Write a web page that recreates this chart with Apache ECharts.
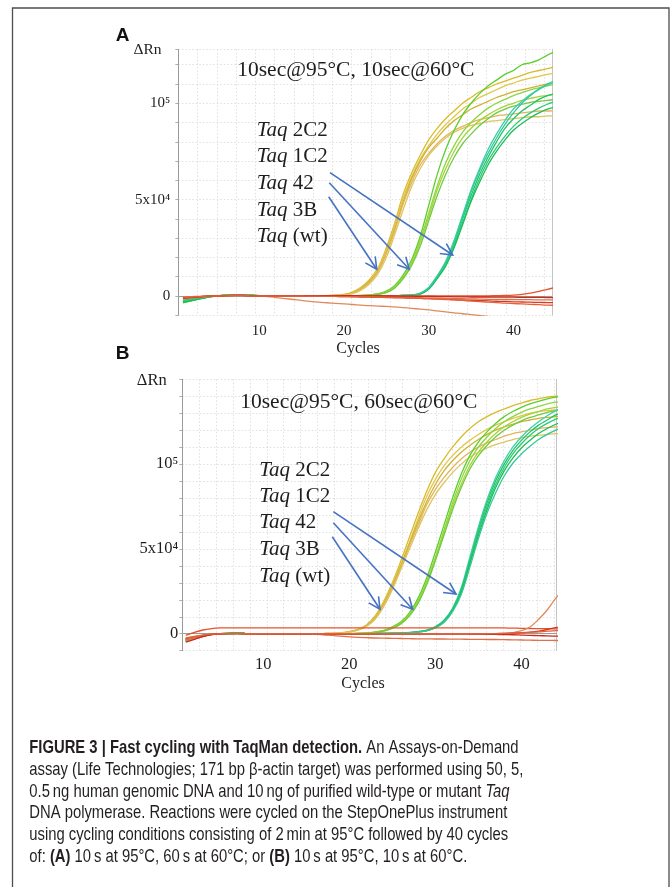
<!DOCTYPE html>
<html><head><meta charset="utf-8">
<script src="https://cdn.jsdelivr.net/npm/echarts@6/dist/echarts.min.js"></script>
<style>html,body{margin:0;padding:0;background:#fff}#c{width:671px;height:887px}</style>
</head><body><div id="c"></div>
<script>
// ---------- DATA (ΔRn in thousands, cycles 1..45) ----------
const cycles = [1,2,3,4,5,6,7,8,9,10,11,12,13,14,15,16,17,18,19,20,21,22,23,24,25,26,27,28,29,30,31,32,33,34,35,36,37,38,39,40,41,42,43,44,45];
const yTickLabels = {0:'0', 50:'5x10\u2074', 100:'10\u2075'};
const xTickLabels = [10,20,30,40];

// Panel A: 10sec@95°C, 10sec@60°C
const aY1 = [-2,-1.5,-1,-0.4,0, 0.3,0.5,0.5,0.3,0.1, 0,0,0,0,0, 0,0.1,0.2,0.4,0.8, 2,4.5,8.5,14.5,25, 38,53,64,73,81, 87,92,96,100,103, 106,108,110,111.5,113, 114.5,116,117,118,119];
const aY2 = [-1.5,-1.2,-0.8,-0.3,0, 0.3,0.5,0.5,0.3,0.1, 0,0,0,0,0, 0,0.1,0.2,0.4,0.7, 1.8,4.2,8,14,24, 37,51,62,71,78, 84,89,93,97,100, 103,105,107,109,110.5, 112,113,114,115,115.5];
const aY3 = [-1,-0.8,-0.5,-0.2,0, 0.2,0.4,0.4,0.3,0.1, 0,0,0,0,0, 0,0.1,0.2,0.3,0.6, 1.6,3.8,7.5,13,22.5, 35,49,61,70,77, 82,87,91,94,97, 99,101,103,104.5,106, 107,108,109,110,110.5];
const aY4 = [-1.8,-1.4,-0.9,-0.3,0, 0.3,0.5,0.5,0.3,0.1, 0,0,0,0,0, 0,0,0.1,0.3,0.5, 1.5,3.5,7,12.5,22, 34,48,59,68,74, 79,83,86,88,90, 91.5,92.5,93.5,94,94.5, 95,95.5,96,96,96.5];
const aY5 = [-1.2,-1,-0.6,-0.2,0, 0.2,0.4,0.4,0.3,0.1, 0,0,0,0,0, 0,0,0.1,0.2,0.4, 1.2,3,6.2,11.5,20, 32,45,57,66,73, 78,82,85,87,88.5, 89.5,90.5,91,91.5,92, 92.5,93,93,93.5,93.5];
const aG1 = [-3.5,-2.5,-1.5,-0.5,0, 0.4,0.6,0.6,0.4,0.2, 0,0,0,0,0, 0,0,0,0,0, 0.1,0.3,0.6,1.2,2.5, 5.5,11,19,31,47, 63,76,86,94,100, 105,109,112,115,117, 120,121,122.5,125,127];
const aG2 = [-3,-2.2,-1.3,-0.4,0, 0.4,0.6,0.6,0.4,0.2, 0,0,0,0,0, 0,0,0,0,0, 0.1,0.3,0.5,1,2, 5,10,17.5,29,43, 57,69,78,85,90, 94,97.5,100,102,104, 105.5,107,108,109,110];
const aG3 = [-2.5,-1.8,-1,-0.3,0, 0.3,0.5,0.5,0.3,0.1, 0,0,0,0,0, 0,0,0,0,0, 0.1,0.2,0.5,1,2, 4.5,9.5,17,28,41, 55,66,75,82,87, 91,94,96.5,98.5,100, 101.5,102.5,103.5,104,104.5];
const aG4 = [-3.2,-2.4,-1.4,-0.5,0, 0.4,0.6,0.6,0.4,0.2, 0,0,0,0,0, 0,0,0,0,0, 0.1,0.2,0.4,0.9,1.8, 4.2,9,16,26,39, 52,63,72,79,84, 88.5,92,95,97,98.5, 99.5,100.5,101,101.5,102];
const aT1 = [-2.8,-2,-1.2,-0.4,0, 0.3,0.5,0.5,0.3,0.1, 0,0,0,0,0, 0,0,0,0,0, 0,0,0,0.1,0.1, 0.2,0.3,0.5,1.5,4.5, 10.5,18,29,42,55, 66,76,84,91,97, 101,104.5,107,109.5,111];
const aT2 = [-3,-2.2,-1.3,-0.4,0, 0.3,0.5,0.5,0.3,0.1, 0,0,0,0,0, 0,0,0,0,0, 0,0,0,0.1,0.1, 0.2,0.3,0.5,1.2,4, 10,17,27,40,52, 63,72,80,87,92, 96,99,102,104,105];
const aT3 = [-2.5,-1.8,-1.1,-0.3,0, 0.3,0.5,0.5,0.3,0.1, 0,0,0,0,0, 0,0,0,0,0, 0,0,0,0.1,0.1, 0.2,0.3,0.4,1,3.8, 9.5,16,26,38,50, 61,70,77,83,88, 92,95,97.5,99.5,101];
const aT4 = [-3.3,-2.4,-1.4,-0.5,0, 0.4,0.6,0.6,0.4,0.2, 0,0,0,0,0, 0,0,0,0,0, 0,0,0,0.1,0.1, 0.2,0.3,0.4,1,3.5, 9,15.5,25,37,49, 59,68,75,81,86, 89.5,92.5,95,97,98];
const aT5 = [-2.2,-1.6,-0.9,-0.3,0, 0.3,0.4,0.4,0.3,0.1, 0,0,0,0,0, 0,0,0,0,0, 0,0,0,0.1,0.1, 0.2,0.3,0.5,1.3,4.2, 10,17,28,41,54, 65,74,82,89,95, 100,104,107.5,110,112];
const aR1 = [-1,-0.7,-0.4,-0.2,0, 0.2,0.3,0.3,0.2,0.1, 0.1,0.1,0.1,0.1,0.1, 0.1,0.1,0.1,0.1,0.1, 0.1,0.1,0.1,0.1,0.1, 0.1,0.1,0.1,0.1,0.1, 0.1,0.1,0.1,0.1,0.1, 0.1,0.1,0.2,0.3,0.5, 0.9,1.5,2.4,3.5,4.5];
const aR2 = [-1.5,-1,-0.5,-0.2,0, 0.3,0.4,0.4,0.3,0.1, -0.3,-0.8,-1.3,-1.8,-2.3, -2.8,-3.2,-3.5,-3.8,-4.1, -4.4,-4.7,-5,-5.2,-5.4, -5.6,-6,-6.4,-6.8,-7.2, -7.7,-8.2,-8.7,-9.2,-9.6, -10.1,-10.6,-11,-11.5,-12, -12.5,-13,-13.5,-14,-14.5];
const aR3 = [-0.8,-0.5,-0.3,-0.1,0, 0.2,0.3,0.3,0.2,0.1, 0,0,0,0,0, 0,0,-0.1,-0.2,-0.3, -0.4,-0.5,-0.6,-0.7,-0.8, -0.9,-1,-1.1,-1.2,-1.4, -1.5,-1.7,-1.9,-2,-2.2, -2.4,-2.5,-2.7,-2.8,-3, -3.1,-3.2,-3.3,-3.4,-3.5];
const aR4 = [-0.5,-0.3,-0.2,0,0, 0.2,0.3,0.3,0.2,0.2, 0.1,0.1,0.1,0,0, 0,0,0,0,0, -0.1,-0.2,-0.3,-0.4,-0.5, -0.6,-0.7,-0.8,-0.9,-1, -1.1,-1.2,-1.3,-1.4,-1.5, -1.6,-1.7,-1.7,-1.8,-1.8, -1.9,-1.9,-2,-2,-2];
const aR5 = [-1.2,-0.8,-0.4,-0.1,0, 0.2,0.3,0.3,0.2,0.1, 0.1,0.2,0.2,0.2,0.2, 0.2,0.2,0.2,0.2,0.2, 0.2,0.1,0.1,0,0, 0,-0.1,-0.1,-0.2,-0.2, -0.3,-0.3,-0.4,-0.4,-0.5, -0.5,-0.5,-0.6,-0.6,-0.6, -0.7,-0.7,-0.7,-0.8,-0.8];
const aR6 = [-1,-0.6,-0.3,-0.1,0, 0.1,0.2,0.2,0.1,0, 0,0,0,0,0, -0.1,-0.1,-0.2,-0.2,-0.3, -0.3,-0.4,-0.4,-0.5,-0.6, -0.7,-0.8,-1,-1.2,-1.4, -1.6,-1.8,-2,-2.3,-2.6, -2.9,-3.2,-3.4,-3.7,-3.9, -4.1,-4.3,-4.5,-4.7,-4.8];

// Panel B: 10sec@95°C, 60sec@60°C
const bY1 = [-4,-2.5,-1.2,-0.4,0, 0.2,0.2,0.1,0,0, 0,0,0,0,0, 0,0.1,0.2,0.5,1.2, 2.6,5.2,10.5,19,30, 43,57,71,84,95, 103,110,116,121,125, 128,130.5,132.5,134.5,136, 137.5,138.5,139.5,140,140.5];
const bY2 = [-3,-2,-1,-0.3,0, 0.1,0.2,0.1,0,0, 0,0,0,0,0, 0,0.1,0.2,0.5,1.2, 2.5,5,10,18,29, 41,54,68,81,91, 99,105,110,114,117.5, 120.5,123,125,127,128.5, 130,131,131.5,132,132.5];
const bY3 = [-3.5,-2.2,-1.1,-0.3,0, 0.1,0.2,0.1,0,0, 0,0,0,0,0, 0,0.1,0.2,0.4,1.1, 2.4,4.8,9.5,17.5,28, 40,53,66,78,88, 96,102,107,111,114.5, 117.5,120,122,123.5,125, 126,127,127.5,128,128.5];
const bY4 = [-2.5,-1.6,-0.8,-0.2,0, 0.1,0.1,0.1,0,0, 0,0,0,0,0, 0,0.1,0.2,0.4,1, 2.3,4.6,9,17,27, 39,52,64,76,85, 92,98,103,107,110, 112.5,114.5,116.5,118,119, 120,121,121.5,122,122];
const bY5 = [-3,-1.9,-1,-0.3,0, 0.1,0.2,0.1,0,0, 0,0,0,0,0, 0,0.1,0.1,0.3,0.9, 2.1,4.3,8.5,16,26, 38,50,62,73,82, 89,95,100,104,107, 109.5,111.5,113,114.5,115.5, 116.5,117,117.5,118,118];
const bG1 = [-4.5,-3,-1.5,-0.5,0, 0.2,0.2,0.1,0,0, 0,0,0,0,0, 0,0,0,0.1,0.1, 0.2,0.5,1,2,4, 7,12.5,21,33,48, 64,80,94,105,113, 119,124,128,131,133.5, 135.5,137,138.5,139.5,140];
const bG2 = [-4,-2.7,-1.4,-0.4,0, 0.2,0.2,0.1,0,0, 0,0,0,0,0, 0,0,0,0.1,0.1, 0.2,0.5,0.9,1.8,3.6, 6.5,11.5,19.5,31,45, 61,77,91,102,110, 116,121,125,128,130.5, 132.5,134,135.5,136.5,137];
const bG3 = [-3.5,-2.3,-1.2,-0.4,0, 0.1,0.2,0.1,0,0, 0,0,0,0,0, 0,0,0,0.1,0.1, 0.2,0.4,0.8,1.7,3.4, 6,11,18.5,30,44, 59,75,88,99,107, 113,118,122,125,127.5, 129.5,131,132.5,133.5,134];
const bG4 = [-4.2,-2.8,-1.4,-0.4,0, 0.2,0.2,0.1,0,0, 0,0,0,0,0, 0,0,0,0.1,0.1, 0.2,0.4,0.8,1.6,3.2, 5.8,10.5,18,29,43, 58,73,86,97,105, 111,116,120,123,125.5, 127.5,129,130.5,131.5,132];
const bT1 = [-3.8,-2.5,-1.3,-0.4,0, 0.2,0.2,0.1,0,0, 0,0,0,0,0, 0,0,0,0,0, 0,0.1,0.1,0.2,0.3, 0.5,0.8,1.3,2.2,4.2, 8,15,27,45,63, 79,92,102,110,116, 121,125,128.5,131.5,134];
const bT2 = [-3.2,-2.1,-1.1,-0.3,0, 0.1,0.2,0.1,0,0, 0,0,0,0,0, 0,0,0,0,0, 0,0.1,0.1,0.2,0.3, 0.4,0.7,1.2,2,4, 7.5,14.5,26,43,61, 77,90,100,108,114, 119,123,126,129,131];
const bT3 = [-4,-2.6,-1.3,-0.4,0, 0.2,0.2,0.1,0,0, 0,0,0,0,0, 0,0,0,0,0, 0,0.1,0.1,0.2,0.3, 0.4,0.7,1.1,1.9,3.8, 7.2,14,25,42,60, 75,88,98,106,112, 117,121,124,126.5,128.5];
const bT4 = [-3.6,-2.4,-1.2,-0.4,0, 0.1,0.2,0.1,0,0, 0,0,0,0,0, 0,0,0,0,0, 0,0.1,0.1,0.2,0.2, 0.3,0.6,1,1.8,3.6, 7,13.5,24,41,58, 73,86,96,103.5,109.5, 114,118,121,123.5,125.5];
const bT5 = [-3,-2,-1,-0.3,0, 0.1,0.2,0.1,0,0, 0,0,0,0,0, 0,0,0,0,0, 0,0.1,0.1,0.2,0.2, 0.3,0.6,1,1.7,3.4, 6.6,13,23,39,56, 71,83,93,100.5,106, 110.5,114.5,117.5,120,122];
const bR1 = [-1,0.8,2.2,3,3.4, 3.5,3.5,3.5,3.5,3.5, 3.5,3.5,3.5,3.5,3.5, 3.5,3.5,3.5,3.5,3.5, 3.5,3.5,3.5,3.5,3.5, 3.5,3.5,3.5,3.5,3.5, 3.5,3.5,3.5,3.5,3.5, 3.5,3.5,3.4,3.3,3.2, 3.1,3,3,2.9,2.9];
const bR2 = [-4.5,-3,-1.5,-0.5,0, 0.1,0.1,0,0,0, 0,0,0,0,0, 0,0,0,0,0, 0,0,0,0,0, 0,0,0,0,0, 0,0,0,0,0, 0,0.1,0.3,0.7,1.8, 4,8.5,14,21,27];
const bR3 = [-3,-2,-1,-0.3,0, 0.1,0.1,0,0,0, 0,0,0,0,0, 0,0,0,0,0, 0,0,0,0,0, 0,0,0,0,0, 0,0,0,0,0, 0,0,0.1,0.3,0.6, 1,1.6,2.5,3.6,4.8];
const bR4 = [-3.5,-2.3,-1.1,-0.3,0, 0.1,0.1,0,0,0, 0,0,0,0,0, -0.3,-0.6,-1,-1.4,-1.8, -2.1,-2.3,-2.5,-2.6,-2.7, -2.8,-2.9,-3,-3,-3.1, -3.1,-3.2,-3.2,-3.3,-3.3, -3.4,-3.4,-3.5,-3.6,-3.7, -3.8,-3.9,-3.9,-4,-4];
const bR5 = [-5,-3.3,-1.7,-0.5,0, 0.2,0.2,0.1,0,0, 0,0,0,0,0, 0,0,0,0,0, 0,0,0,0,0, 0,0,0,0,0, 0,0,-0.1,-0.1,-0.2, -0.3,-0.4,-0.5,-0.6,-0.8, -1,-1.1,-1.3,-1.4,-1.5];
const bR6 = [-2.5,-1.6,-0.8,-0.2,0, 0.1,0.1,0,0,0, 0,0,0,0,0, 0,0,0,0,0, 0,0,0,0,0, 0,0,0,0,0, 0,0,0,0,0, 0,0.1,0.2,0.3,0.5, 0.8,1.1,1.5,1.8,2.1];

const titleA = '10sec@95\u00B0C, 10sec@60\u00B0C';
const titleB = '10sec@95\u00B0C, 60sec@60\u00B0C';
const enzymes = ['2C2','1C2','42','3B','(wt)'];

// ---------- STYLE ----------
const SERIF = '"Liberation Serif","Times New Roman","DejaVu Serif",serif';
const SANS = '"Liberation Sans Narrow","Liberation Sans",Arial,sans-serif';
const TXT = '#1e1e1e';
const GRIDC = '#e0e0e0';
const AXC = '#9a9a9a';
const ARROW = '#4673c2';

const yellowC = ['#d8bb2a','#e2c64c','#cdb232','#e3b45a','#dcc55e'];
const greenC  = ['#5ccf2c','#8cd63e','#a6d23a','#6fcb40'];
const tealC   = ['#3fcfae','#22c462','#2ccb7c','#1dbd55','#35c89a'];
const redC    = ['#e5532c','#e08a5c','#d83a20','#e0704a','#cc2a1a','#e2623e'];

function line(arr, color, xi, yi){
  return {type:'line', xAxisIndex:xi, yAxisIndex:yi,
    data: cycles.map((c,i)=>[c, arr[i]]),
    showSymbol:false, symbol:'none', smooth:0.35, clip:true, silent:true,
    lineStyle:{color:color, width:1.3}, itemStyle:{color:color}};
}

const series = [];
[aY1,aY2,aY3,aY4,aY5].forEach((a,i)=>series.push(line(a, yellowC[i], 0, 0)));
[aG1,aG2,aG3,aG4].forEach((a,i)=>series.push(line(a, greenC[i], 0, 0)));
[aT1,aT2,aT3,aT4,aT5].forEach((a,i)=>series.push(line(a, tealC[i], 0, 0)));
[aR1,aR2,aR3,aR4,aR5,aR6].forEach((a,i)=>series.push(line(a, redC[i], 0, 0)));
[bY1,bY2,bY3,bY4,bY5].forEach((a,i)=>series.push(line(a, yellowC[i], 2, 2)));
[bG1,bG2,bG3,bG4].forEach((a,i)=>series.push(line(a, greenC[i], 2, 2)));
[bT1,bT2,bT3,bT4,bT5].forEach((a,i)=>series.push(line(a, tealC[i], 2, 2)));
[bR1,bR2,bR3,bR4,bR5,bR6].forEach((a,i)=>series.push(line(a, redC[i], 2, 2)));

function mainX(grid, min, max, fs, margin){
  return {gridIndex:grid, type:'value', min:min, max:max, splitNumber:4, position:'bottom',
    axisLine:{show:true, lineStyle:{color:AXC, width:1}}, axisTick:{show:false}, splitLine:{show:false},
    axisLabel:{margin:margin, color:TXT, fontFamily:SERIF, fontSize:fs,
      formatter:v=>{const r=Math.round(v); return (Math.abs(v-r)<1e-6 && xTickLabels.indexOf(r)>=0)?String(r):'';}}};
}
function gridX(grid, max){
  return {gridIndex:grid, type:'value', min:0, max:max, interval:1, position:'top',
    axisLine:{show:false}, axisTick:{show:false}, axisLabel:{show:false},
    splitLine:{show:true, lineStyle:{color:GRIDC, type:[1.5,2], width:1}}};
}
function mainY(grid, max, fs, margin){
  return {gridIndex:grid, type:'value', min:-10, max:max, interval:10, position:'left',
    axisLine:{show:true, lineStyle:{color:AXC, width:1}},
    axisTick:{show:true, length:3, lineStyle:{color:'#b0b0b0'}},
    splitLine:{show:true, lineStyle:{color:GRIDC, type:[1.5,2], width:1}},
    axisLabel:{margin:margin, color:TXT, fontFamily:SERIF, fontSize:fs,
      formatter:v=>{const r=Math.round(v); return yTickLabels[r]!==undefined && Math.abs(v-r)<1e-6 ? yTickLabels[r] : '';}}};
}
function borderY(grid){
  return {gridIndex:grid, type:'value', min:0, max:1, position:'right',
    axisLine:{show:true, lineStyle:{color:'#c4c4c4', width:1}}, axisTick:{show:false},
    axisLabel:{show:false}, splitLine:{show:false}};
}

// ---------- ANNOTATIONS ----------
const G = [];
G.push({type:'rect', z:100, shape:{x:12.5, y:8, width:656.5, height:1000}, style:{fill:'none', stroke:'#4d4d4d', lineWidth:1.3}});
function txt(x, y, text, font, size, extra){
  return {type:'text', z:100, x:x, y:y, style:Object.assign({text:text, fill:TXT, fontFamily:font, fontSize:size,
    align:'center', verticalAlign:'middle'}, extra||{})};
}
const BOLDSANS = '"Liberation Sans",Arial,sans-serif';
G.push(txt(122.5, 36, 'A', BOLDSANS, 19, {fontWeight:'bold', fill:'#111'}));
G.push(txt(122.7, 353.3, 'B', BOLDSANS, 19, {fontWeight:'bold', fill:'#111'}));
G.push(txt(147.5, 50, '\u0394Rn', SERIF, 15.5));
G.push(txt(151.7, 381, '\u0394Rn', SERIF, 16.5));
G.push(txt(358, 349, 'Cycles', SERIF, 16));
G.push(txt(363, 683.3, 'Cycles', SERIF, 16));
G.push(txt(355.8, 70.7, titleA, SERIF, 21.5));
G.push(txt(358.8, 402.3, titleB, SERIF, 21.5));

function taqLabels(x, ys){
  ys.forEach((y,i)=>{
    G.push({type:'text', z:100, x:x, y:y, style:{text:'{i|Taq}{n| '+enzymes[i]+'}', align:'left', verticalAlign:'middle',
      rich:{i:{fontFamily:SERIF, fontSize:21, fontStyle:'italic', fill:TXT}, n:{fontFamily:SERIF, fontSize:21, fill:TXT}}}});
  });
}
taqLabels(256.7, [130,156.7,183.3,210,236.7]);
taqLabels(259.3, [470,496,522.7,549.3,576]);

const arrowsA = [[330,172.7,452.7,255],[329.3,182.7,409.3,269.3],[328.7,196.7,376.7,269.3]];
const arrowsB = [[333.3,511.7,456,594],[333.3,522.7,412.7,609.3],[332.3,536.7,380,609.3]];
function arrow(a){
  const [x1,y1,x2,y2]=a; const ang=Math.atan2(y2-y1,x2-x1); const L=13, h=0.47;
  const p1=[x2-L*Math.cos(ang-h), y2-L*Math.sin(ang-h)];
  const p2=[x2-L*Math.cos(ang+h), y2-L*Math.sin(ang+h)];
  G.push({type:'line', z:101, shape:{x1:x1,y1:y1,x2:x2,y2:y2}, style:{stroke:ARROW, lineWidth:1.6}});
  G.push({type:'polyline', z:101, shape:{points:[p1,[x2,y2],p2]}, style:{stroke:ARROW, lineWidth:1.6, fill:null}});
}
arrowsA.forEach(arrow); arrowsB.forEach(arrow);

// caption
const capLines = [
  '{b|FIGURE 3 | Fast cycling with TaqMan detection.}{r| An Assays-on-Demand}',
  '{r|assay (Life Technologies; 171 bp \u03B2-actin target) was performed using 50, 5,}',
  '{r|0.5\u2009ng human genomic DNA and 10\u2009ng of purified wild-type or mutant }{i|Taq}',
  '{r|DNA polymerase. Reactions were cycled on the StepOnePlus instrument}',
  '{r|using cycling conditions consisting of 2\u2009min at 95\u00B0C followed by 40 cycles}',
  '{r|of: }{b|(A)}{r| 10\u2009s at 95\u00B0C, 60\u2009s at 60\u00B0C; or }{b|(B)}{r| 10\u2009s at 95\u00B0C, 10\u2009s at 60\u00B0C.}'
];
const capY = [748.3, 770, 791.7, 813.3, 835, 856.7];
const CAPFS = 18.5;
const mctx = document.createElement('canvas').getContext('2d');
mctx.font = CAPFS + 'px ' + SANS;
const ref = '0.5\u2009ng human genomic DNA and 10\u2009ng of purified wild-type or mutant Taq';
const capScale = 480 / mctx.measureText(ref).width;
const CAPC = '#231f20';
capLines.forEach((t,i)=>{
  G.push({type:'text', z:100, x:29.3, y:capY[i], scaleX:capScale, scaleY:1,
    style:{text:t, align:'left', verticalAlign:'middle',
      rich:{b:{fontFamily:SANS, fontSize:CAPFS, fontWeight:'bold', fill:CAPC},
            r:{fontFamily:SANS, fontSize:CAPFS, fill:CAPC},
            i:{fontFamily:SANS, fontSize:CAPFS, fontStyle:'italic', fill:CAPC}}}});
});

const option = {
  animation:false,
  backgroundColor:'#ffffff',
  grid:[
    {left:178.3, top:49.3, width:373.7, height:266, containLabel:false},
    {left:182.3, top:379.3, width:374.4, height:271.4, containLabel:false}
  ],
  xAxis:[ mainX(0, 0.45, 44.55, 15, 8), gridX(0, 19.4), mainX(1, 0.6, 44.1, 16.5, 5), gridX(1, 22.15) ],
  yAxis:[ mainY(0, 128, 15, 8), borderY(0), mainY(1, 150, 16.5, 4), borderY(1) ],
  series: series,
  graphic: G
};
const chart = echarts.init(document.getElementById('c'));
chart.setOption(option);
</script>
</body></html>
